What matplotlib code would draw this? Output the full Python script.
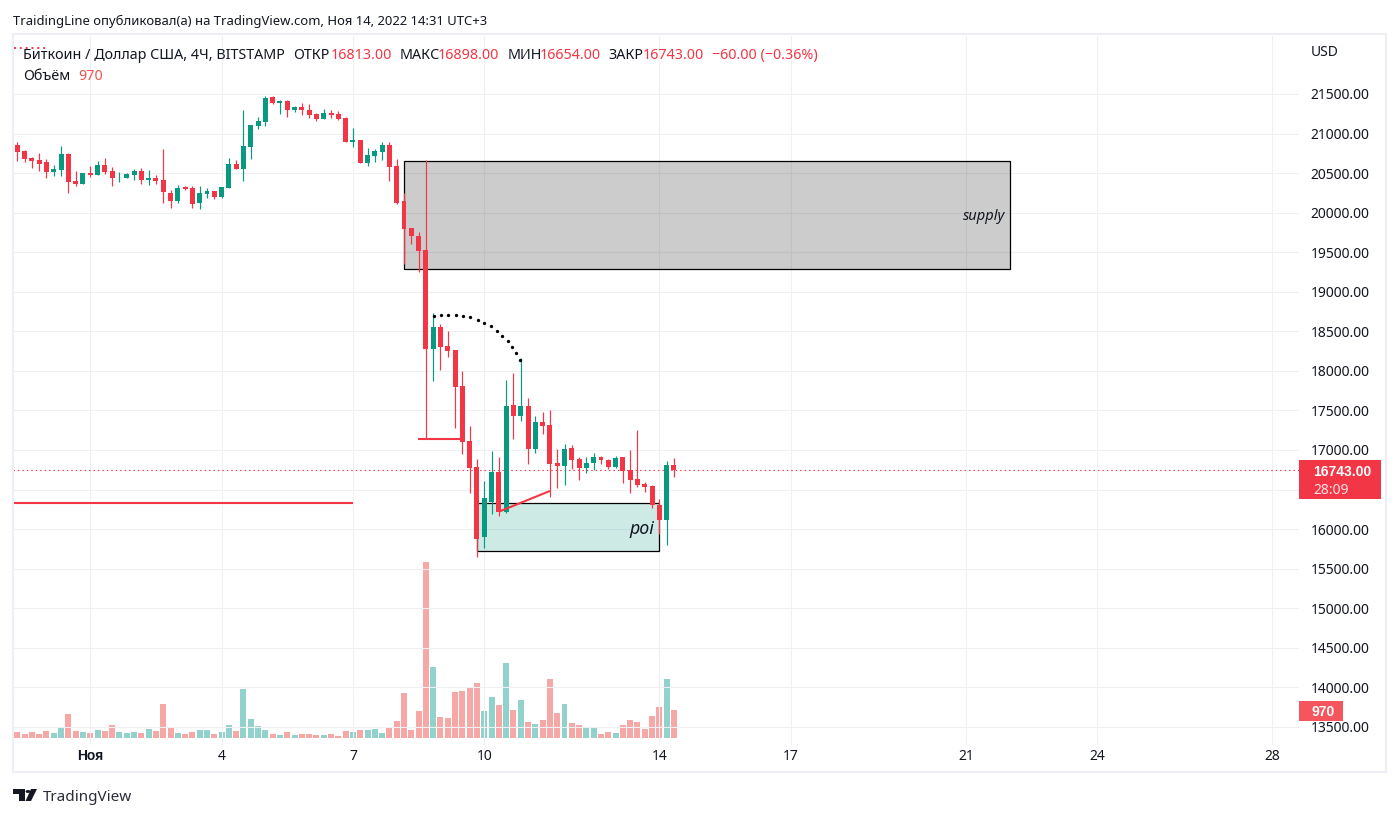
import matplotlib
matplotlib.use("Agg")
import matplotlib.pyplot as plt
from matplotlib.patches import Rectangle, Polygon, Circle

W, H = 1399, 817
RED = "#F23645"
GREEN = "#089981"
INK = "#131722"
GRID = "#f0f0f3"

opens = [20855,20780,20687,20666,20641,20518,20544,20742,20400,20367,20502,20481,20603,20527,20447,20443,20481,20527,20417,20438,
         20413,20249,20152,20325,20312,20127,20240,20274,20198,20316,20615,20552,20830,21096,21146,21462,21386,21412,21298,21336,
         21298,21247,21184,21260,21247,21197,20893,20919,20628,20716,20767,20855,20590,20148,19806,19705,19528,18281,18555,18315,
         18265,17810,17114,16786,15901,16343,16723,16217,17569,17430,17557,17013,17354,17316,16836,16798,17025,16886,16773,16836,
         16912,16874,16785,16912,16747,16634,16570,16545,16305,16115,16813]
highs = [20889,20788,20704,20754,20674,20599,20839,20754,20527,20506,20590,20649,20691,20577,20510,20497,20548,20565,20540,20476,
         20801,20287,20346,20337,20337,20337,20308,20274,20325,20691,20666,21298,21108,21209,21475,21475,21424,21424,21348,21386,
         21374,21260,21310,21298,21285,21209,21070,20919,20818,20805,20893,20893,20679,20249,19806,19756,20666,18732,18593,18504,
         18265,17999,17304,16887,16609,16988,16912,17885,17974,18163,17658,17430,17480,17506,17013,17076,17063,16912,16912,16962,
         16924,16886,16924,16912,16998,17253,16596,16558,16381,16861,16898]
lows = [20657,20645,20569,20531,20443,20468,20468,20253,20341,20367,20455,20481,20493,20341,20392,20443,20417,20367,20354,20367,
        20127,20063,20127,20291,20063,20051,20190,20177,20186,20316,20552,20400,20679,21058,21096,21374,21247,21209,21273,21235,
        21197,21159,21184,21197,21171,20893,20830,20628,20590,20641,20666,20400,20110,19351,19604,19250,17140,17873,18012,18180,
        17279,16950,16457,15648,15762,16192,16167,16204,17140,17367,16824,16963,17202,16406,16520,16558,16760,16621,16709,16747,
        16823,16760,16773,16583,16457,16532,16469,16267,15938,15799,16654]
closes = [20771,20683,20657,20620,20518,20552,20742,20392,20367,20497,20481,20603,20514,20443,20455,20489,20527,20417,20438,20405,
          20266,20152,20312,20304,20114,20249,20270,20198,20325,20615,20552,20843,21108,21159,21449,21386,21412,21298,21336,21298,
          21235,21184,21260,21235,21184,20893,20919,20628,20729,20780,20855,20577,20122,19794,19705,19515,18281,18555,18305,18252,
          17797,17102,16773,15876,16394,16723,16217,17557,17430,17557,17013,17355,17303,16823,16798,17013,16874,16773,16836,16912,
          16874,16785,16899,16735,16621,16558,16532,16305,16115,16810,16743]
volumes = [208,139,208,139,243,173,347,832,243,208,173,277,243,450,208,173,208,173,312,243,
           1178,347,173,139,208,277,277,139,208,450,243,1698,658,416,277,139,104,208,104,139,
           139,104,104,139,69,243,208,277,277,312,173,381,589,1559,277,936,6098,2460,728,693,
           1594,1629,1733,1906,936,1421,1143,2599,970,1317,554,485,624,2044,866,1178,520,450,381,381,
           139,208,173,450,624,554,312,762,1074,2044,970]

x_tick_pos = [10, 28, 46, 64, 88, 106, 130, 148, 172]
x_tick_labels = ["Ноя", "4", "7", "10", "14", "17", "21", "24", "28"]
y_ticks = [13500,14000,14500,15000,15500,16000,16500,17000,17500,18000,18500,19000,19500,20000,20500,21000,21500]
y_tick_labels = ["13500.00","14000.00","14500.00","15000.00","15500.00","16000.00","","17000.00","17500.00",
                 "18000.00","18500.00","19000.00","19500.00","20000.00","20500.00","21000.00","21500.00"]
last_price = 16743
last_volume = 970

supply_box = (53.0, 136.1, 19288, 20647)
poi_box = (63.0, 88.0, 15720, 16326)
long_line_x, long_line_y = [-0.6, 46.0], [16330, 16330]
flat_line_x, flat_line_y = [54.9, 60.7], [17140, 17140]
trend_x, trend_y = [66.0, 73.0], [16220, 16482]
arc_x = [57.08,58.04,59.05,60.1,61.1,62.1,63.1,64.0,64.9,65.8,66.5,67.2,67.8,68.4,68.96]
arc_y = [18698,18702,18711,18707,18698,18677,18648,18610,18563,18504,18445,18374,18298,18222,18138]
stub_x, stub_y = [-0.4, 3.8], [22081, 22081]

plt.rcParams["font.family"] = ["Noto Sans", "DejaVu Sans"]
fig = plt.figure(figsize=(W / 100, H / 100), dpi=100, facecolor="white")

L, R, T, B = 13, 1299, 36, 745
rect = [L / W, 1 - B / H, (R - L) / W, (B - T) / H]
ax2 = fig.add_axes(rect)
ax = fig.add_axes(rect)
ax.patch.set_visible(False)

for a in (ax, ax2):
    a.set_xlim(-0.59, 175.67)
    for s in a.spines.values():
        s.set_visible(False)
ax.set_ylim(13271, 22233)
ax2.set_ylim(-242, 24317)
ax2.set_xticks([])
ax2.set_yticks([])

# grid
ax.set_axisbelow(True)
ax.grid(True, color=GRID, lw=0.8)

ax.set_xticks(x_tick_pos, x_tick_labels)
ax.set_yticks(y_ticks, y_tick_labels)
ax.yaxis.tick_right()
ax.tick_params(axis="x", length=0, pad=3.2, labelsize=10, colors=INK)
ax.tick_params(axis="y", length=0, pad=8.5, labelsize=10, colors=INK)

# zones
x0, x1, y0, y1 = supply_box
ax.add_patch(Rectangle((x0, y0), x1 - x0, y1 - y0, facecolor=(0, 0, 0, 0.2), edgecolor="black", lw=0.9, zorder=2))
x0, x1, y0, y1 = poi_box
ax.add_patch(Rectangle((x0, y0), x1 - x0, y1 - y0, facecolor=(8/255, 153/255, 129/255, 0.2), edgecolor="black", lw=0.9, zorder=2))

# volume
idx = list(range(len(opens)))
vol_colors = ["#26a69a" if c >= o else "#ef5350" for o, c in zip(opens, closes)]
ax2.bar(idx, volumes, width=0.82, color=vol_colors, alpha=0.5, linewidth=0)

# price line
ax.axhline(last_price, color=RED, lw=0.8, ls=(0, (1.3, 2.7)), zorder=2.5)
ax.plot(stub_x, stub_y, color=RED, lw=1.4, ls=(0, (1, 2)), zorder=2.5)

# candles
colors = [GREEN if c >= o else RED for o, c in zip(opens, closes)]
ax.vlines(idx, lows, highs, colors=colors, lw=0.85, zorder=3)
ax.bar(idx, [abs(c - o) for o, c in zip(opens, closes)], bottom=[min(o, c) for o, c in zip(opens, closes)],
       width=0.68, color=colors, linewidth=0, zorder=3.1)

# drawings
ax.plot(long_line_x, long_line_y, color=RED, lw=1.5, zorder=4, solid_capstyle="butt")
ax.plot(flat_line_x, flat_line_y, color=RED, lw=1.5, zorder=4, solid_capstyle="butt")
ax.plot(trend_x, trend_y, color=RED, lw=1.5, zorder=4, solid_capstyle="butt")
ax.plot(arc_x, arc_y, ls="none", marker="o", ms=2.4, color="black", mew=0, zorder=4)

def ftext(x, y, s, **kw):
    kw.setdefault("va", "center")
    kw.setdefault("color", INK)
    kw.setdefault("fontsize", 10)
    return fig.text(x / W, 1 - (y + 1.3) / H, s, **kw)

def frect(x0, y0, x1, y1, **kw):
    p = Rectangle((x0 / W, 1 - y1 / H), (x1 - x0) / W, (y1 - y0) / H, transform=fig.transFigure, **kw)
    fig.add_artist(p)
    return p

frect(13, 34, 1386, 772, facecolor="none", edgecolor="#eeeef6", lw=1.5)

ftext(13, 20, "TraidingLine опубликовал(а) на TradingView.com, Ноя 14, 2022 14:31 UTC+3", fontsize=9.4)

LEG = 10.3
ftext(23, 54, "Биткоин / Доллар США, 4Ч, BITSTAMP", fontsize=LEG)
for xp, lab, xv, val in [(293, "ОТКР", 331, "16813.00"), (400, "МАКС", 438, "16898.00"),
                         (508, "МИН", 540, "16654.00"), (608, "ЗАКР", 643, "16743.00")]:
    ftext(xp, 54, lab, fontsize=LEG)
    ftext(xv, 54, val, fontsize=LEG, color=RED)
ftext(712, 54, "−60.00 (−0.36%)", fontsize=LEG, color=RED)
ftext(23, 75, "Объём", fontsize=LEG)
ftext(78, 75, "970", fontsize=LEG, color="#ef5350")

ftext(1311, 51, "USD", fontsize=10)

ftext(1005, 215, "supply", ha="right", style="italic", fontsize=10.5)
ftext(654, 528, "poi", ha="right", style="italic", fontsize=12.8)

# price tags
frect(1299, 460, 1381, 499, facecolor=RED, edgecolor="none")
ftext(1313, 471, f"{last_price:.2f}", color="white", fontsize=10, family=["Liberation Sans", "DejaVu Sans"], fontweight="bold")
ftext(1313, 489, "28:09", color="#fde0e3", fontsize=10)
frect(1299, 701, 1343, 721, facecolor="#f6555d", edgecolor="none")
ftext(1311, 711, str(last_volume), color="white", fontsize=10, family=["Liberation Sans", "DejaVu Sans"], fontweight="bold")

# logo
logo = "#131722"
def fpoly(pts):
    fig.add_artist(Polygon([(x / W, 1 - y / H) for x, y in pts], closed=True, transform=fig.transFigure,
                           facecolor=logo, edgecolor="none"))
fpoly([(13, 789), (25, 789), (25, 801), (19, 801), (19, 794), (13, 794)])
fpoly([(31, 789), (37, 789), (31, 801), (25.5, 801)])
fig.add_artist(Circle((28 / W, 1 - 791.5 / H), 2.5 / W, transform=fig.transFigure, facecolor=logo, edgecolor="none"))
ftext(43, 796, "TradingView", fontsize=11, color="#2a2e39")

for t in ax.xaxis.get_major_ticks()[:1]:
    t.label1.set_family(["Liberation Sans", "DejaVu Sans"])
    t.label1.set_fontweight("bold")

fig.savefig("out.png", dpi=100)
